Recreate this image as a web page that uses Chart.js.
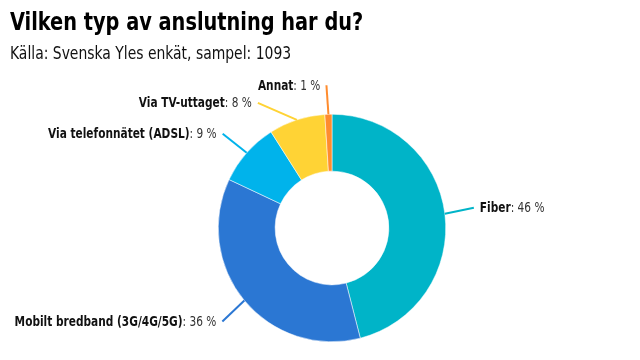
<!DOCTYPE html>
<html>
<head>
<meta charset="utf-8">
<script src="https://cdn.jsdelivr.net/npm/chart.js@4/dist/chart.umd.min.js"></script>
<style>
  body { margin: 0; background: #fff; }
  #wrap { position: relative; width: 640px; height: 360px; }
  #title { position: absolute; left: 10px; top: 7px; font: bold 25px "DejaVu Sans Condensed", sans-serif; color: #000; transform: scaleX(0.86); transform-origin: left top; white-space: nowrap; }
  #sub { position: absolute; left: 10px; top: 42px; font: 18px "DejaVu Sans Condensed", sans-serif; color: #111; transform: scaleX(0.86); transform-origin: left top; white-space: nowrap; }
  canvas { position: absolute; left: 0; top: 0; }
</style>
</head>
<body>
<div id="wrap">
  <canvas id="chart" width="640" height="360"></canvas>
  <div id="title">Vilken typ av anslutning har du?</div>
  <div id="sub">Källa: Svenska Yles enkät, sampel: 1093</div>
</div>
<script>
const labels = ['Fiber', 'Mobilt bredband (3G/4G/5G)', 'Via telefonnätet (ADSL)', 'Via TV-uttaget', 'Annat'];
const values = [46, 36, 9, 8, 1];
const colors = ['#00b4c8', '#2b77d3', '#00b3eb', '#ffd335', '#ff8c2e'];

// where each connector ends, relative to the slice's outer midpoint
const connectorOffsets = [[29, -6], [-22, 21], [-24, -19], [-39, -17], [-2, -29]];

const labelFont = '"DejaVu Sans Condensed", sans-serif';
const squeeze = 0.84;

const outsideLabels = {
    id: 'outsideLabels',
    afterDatasetsDraw(chart) {
        const ctx = chart.ctx;
        const meta = chart.getDatasetMeta(0);
        meta.data.forEach((arc, i) => {
            const p = arc.getProps(['x', 'y', 'startAngle', 'endAngle', 'outerRadius'], true);
            const mid = (p.startAngle + p.endAngle) / 2;
            const sx = p.x + Math.cos(mid) * p.outerRadius;
            const sy = p.y + Math.sin(mid) * p.outerRadius;
            const ex = sx + connectorOffsets[i][0];
            const ey = sy + connectorOffsets[i][1];
            ctx.save();
            ctx.strokeStyle = colors[i];
            ctx.lineWidth = 2;
            ctx.beginPath();
            ctx.moveTo(sx, sy);
            ctx.lineTo(ex, ey);
            ctx.stroke();

            const name = labels[i];
            const rest = ': ' + values[i] + ' %';
            ctx.textBaseline = 'middle';
            ctx.fillStyle = '#111';
            ctx.font = 'bold 14px ' + labelFont;
            const wName = ctx.measureText(name).width;
            ctx.font = '14px ' + labelFont;
            const wRest = ctx.measureText(rest).width;
            const total = (wName + wRest) * squeeze;
            const right = ex > p.x;
            const x0 = right ? ex + 6 : ex - 6 - total;
            ctx.translate(x0, ey + 1);
            ctx.scale(squeeze, 1);
            ctx.font = 'bold 14px ' + labelFont;
            ctx.fillText(name, 0, 0);
            ctx.font = '14px ' + labelFont;
            ctx.fillStyle = '#333';
            ctx.fillText(rest, wName, 0);
            ctx.restore();
        });
    }
};

new Chart(document.getElementById('chart'), {
    type: 'doughnut',
    data: {
        labels: labels,
        datasets: [{
            data: values,
            backgroundColor: colors,
            borderColor: '#ffffff',
            borderWidth: 0.5
        }]
    },
    options: {
        responsive: false,
        animation: false,
        cutout: '50%',
        layout: { padding: { top: 114, bottom: 18, left: 218, right: 194 } },
        plugins: {
            legend: { display: false },
            tooltip: { enabled: false }
        }
    },
    plugins: [outsideLabels]
});
</script>
</body>
</html>
